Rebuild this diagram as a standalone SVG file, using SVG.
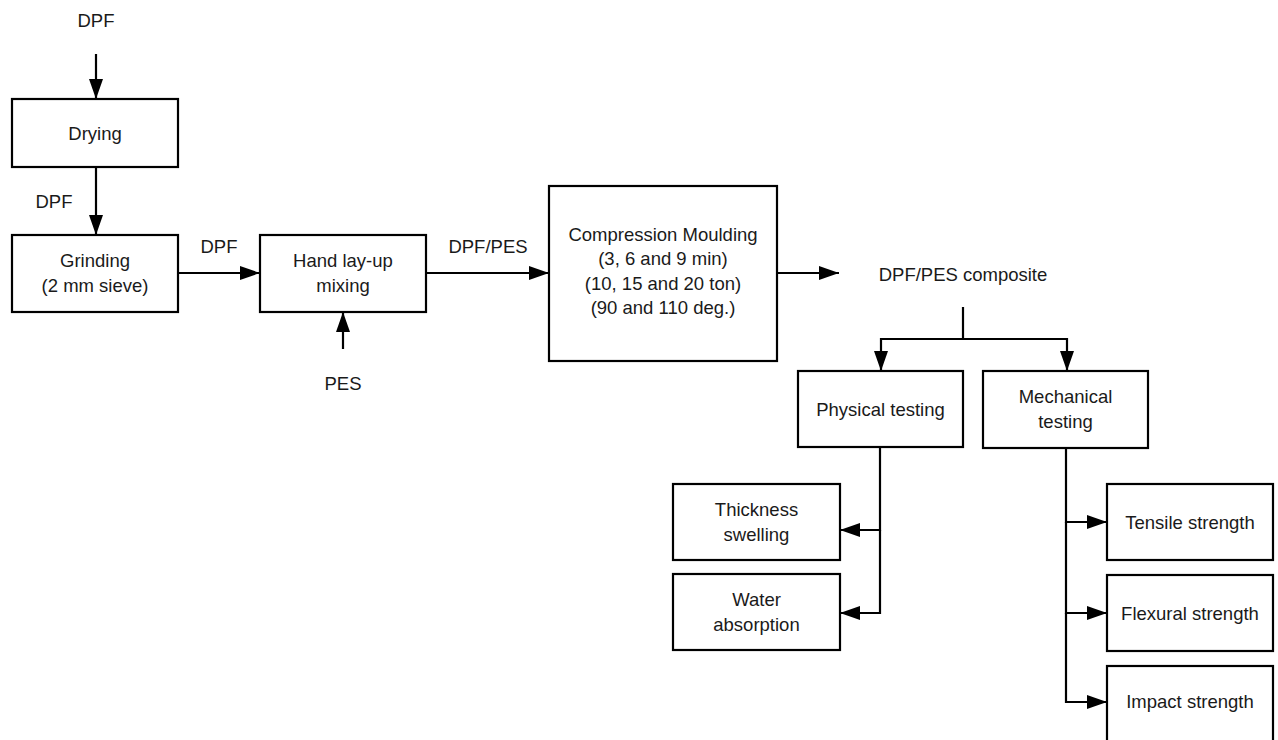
<svg xmlns="http://www.w3.org/2000/svg" width="1278" height="740" viewBox="0 0 1278 740">
  <defs>
    <marker id="arrow" markerUnits="userSpaceOnUse" markerWidth="22" markerHeight="16" refX="20" refY="8" orient="auto">
      <path d="M0,1 L20,8 L0,15 Z" fill="#000"/>
    </marker>
    <style>
      .box { fill: #fff; stroke: #000; stroke-width: 2.2; }
      .edge { fill: none; stroke: #000; stroke-width: 2.2; }
      .arr { marker-end: url(#arrow); }
      text { font-family: "Liberation Sans", Arial, sans-serif; font-size: 18.5px; fill: #1a1a1a; text-anchor: middle; }
    </style>
  </defs>
  <rect width="1278" height="740" fill="#fff"/>

  <!-- connectors -->
  <g id="connectors">
    <line class="edge arr" x1="96" y1="54" x2="96" y2="99"/>
    <line class="edge arr" x1="96" y1="167" x2="96" y2="235"/>
    <line class="edge arr" x1="178" y1="273" x2="260" y2="273"/>
    <line class="edge arr" x1="343" y1="349" x2="343" y2="312"/>
    <line class="edge arr" x1="426" y1="273" x2="549" y2="273"/>
    <line class="edge arr" x1="777" y1="273" x2="839" y2="273"/>
    <line class="edge" x1="963" y1="307" x2="963" y2="339"/>
    <polyline class="edge arr" points="963,339 881,339 881,371"/>
    <polyline class="edge arr" points="963,339 1067,339 1067,371"/>
    <polyline class="edge arr" points="880,447 880,530 840,530"/>
    <polyline class="edge arr" points="880,530 880,613 840,613"/>
    <polyline class="edge arr" points="1066,448 1066,522 1107,522"/>
    <polyline class="edge arr" points="1066,522 1066,613 1107,613"/>
    <polyline class="edge arr" points="1066,613 1066,702 1107,702"/>
  </g>

  <!-- flow labels -->
  <g id="labels">
    <text x="96" y="27">DPF</text>
    <text x="54" y="207.5">DPF</text>
    <text x="219" y="253">DPF</text>
    <text x="488" y="253">DPF/PES</text>
    <text x="343" y="389.5">PES</text>
  </g>

  <g id="drying">
    <rect class="box" x="12" y="99" width="166" height="68"/>
    <text x="95" y="139.5">Drying</text>
  </g>
  <g id="grinding">
    <rect class="box" x="12" y="235" width="166" height="77"/>
    <text x="95" y="267">Grinding</text>
    <text x="95" y="292">(2 mm sieve)</text>
  </g>
  <g id="hand-layup">
    <rect class="box" x="260" y="235" width="166" height="77"/>
    <text x="343" y="267">Hand lay-up</text>
    <text x="343" y="292">mixing</text>
  </g>
  <g id="compression">
    <rect class="box" x="549" y="186" width="228" height="175"/>
    <text x="663" y="240.5">Compression Moulding</text>
    <text x="663" y="265">(3, 6 and 9 min)</text>
    <text x="663" y="289.5">(10, 15 and 20 ton)</text>
    <text x="663" y="314">(90 and 110 deg.)</text>
  </g>
  <g id="composite">
    <text x="963" y="280.5">DPF/PES composite</text>
  </g>
  <g id="physical">
    <rect class="box" x="798" y="371" width="165" height="76"/>
    <text x="880.5" y="415.5">Physical testing</text>
  </g>
  <g id="mechanical">
    <rect class="box" x="983" y="371" width="165" height="77"/>
    <text x="1065.5" y="403">Mechanical</text>
    <text x="1065.5" y="427.5">testing</text>
  </g>
  <g id="thickness">
    <rect class="box" x="673" y="484" width="167" height="76"/>
    <text x="756.5" y="516">Thickness</text>
    <text x="756.5" y="540.5">swelling</text>
  </g>
  <g id="water">
    <rect class="box" x="673" y="574" width="167" height="76"/>
    <text x="756.5" y="606">Water</text>
    <text x="756.5" y="630.5">absorption</text>
  </g>
  <g id="tensile">
    <rect class="box" x="1107" y="484" width="166" height="76"/>
    <text x="1190" y="528.5">Tensile strength</text>
  </g>
  <g id="flexural">
    <rect class="box" x="1107" y="575" width="166" height="76"/>
    <text x="1190" y="619.5">Flexural strength</text>
  </g>
  <g id="impact">
    <rect class="box" x="1107" y="666" width="166" height="76"/>
    <text x="1190" y="708">Impact strength</text>
  </g>
</svg>
